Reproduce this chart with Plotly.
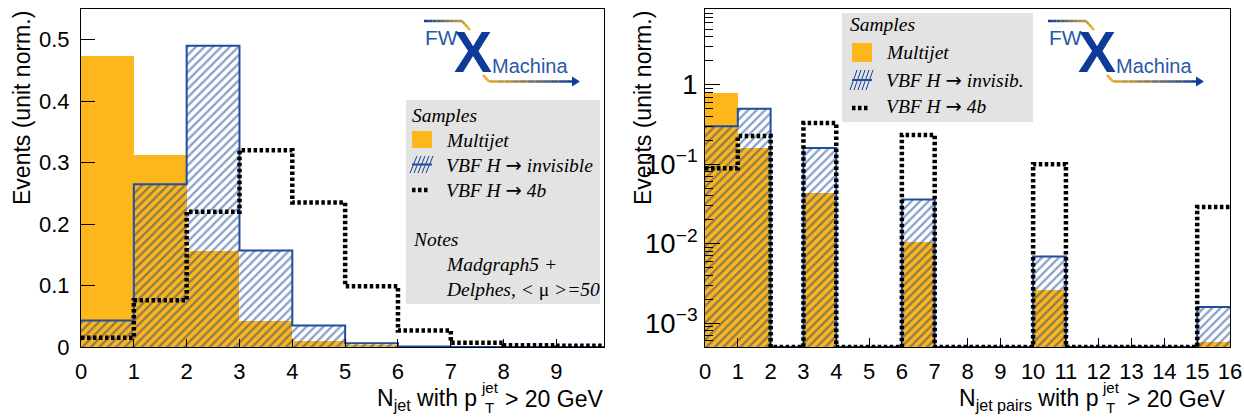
import numpy as np
import plotly.graph_objects as go

W, H = 1244, 417

# ---------------- data ----------------
# Left panel: N_jet with pT > 20 GeV (bins of width 1, 0..10)
njet_edges = list(range(0, 11))
njet_multijet = [0.473, 0.312, 0.157, 0.042, 0.009, 0.003, 0.0, 0.0, 0.0, 0.0]
njet_vbf_inv = [0.043, 0.265, 0.490, 0.157, 0.035, 0.006, 0.001, 0.0, 0.0, 0.0]
njet_vbf_4b = [0.015, 0.076, 0.220, 0.320, 0.235, 0.099, 0.027, 0.007, 0.003, 0.002]
njet_ticks = list(range(0, 10))

# Right panel: N_jet pairs with pT > 20 GeV (bins of width 1, 0..16)
npair_edges = list(range(0, 17))
npair_multijet = [0.785, 0.160, 0, 0.043, 0, 0, 0.0105, 0, 0, 0, 0.0026, 0, 0, 0, 0, 0.00058]
npair_vbf_inv = [0.300, 0.500, 0, 0.160, 0, 0, 0.036, 0, 0, 0, 0.0069, 0, 0, 0, 0, 0.0016]
npair_vbf_4b = [0.089, 0.227, 0, 0.330, 0, 0, 0.234, 0, 0, 0, 0.100, 0, 0, 0, 0, 0.029]
npair_ticks = list(range(0, 17))

# ---------------- style ----------------
ORANGE = "#fdb71c"
BLUE = "#1f4e9e"
HATCH = "#163f8f"
GREY = "#e3e3e3"
LOGO_DARK = "#0e3b98"
LOGO_BLUE = "#2a58a8"
LOGO_YELLOW = "#f6b41c"
SANS = "Liberation Sans, Arial, sans-serif"
SERIF = "Liberation Serif, Times New Roman, serif"
DOTS = "3.5px,2.5px"
ARROW = "<span style='font-family:DejaVu Sans;font-style:normal'>→</span>"

YMIN_LOG = np.log10(5e-4)
YMAX_LOG = np.log10(9.0)
FLOOR = 10 ** YMIN_LOG


def px(x):
    return x / W


def py(y):
    return 1 - y / H


def centers(edges):
    e = np.asarray(edges, dtype=float)
    return list((e[:-1] + e[1:]) / 2)


def step(edges, vals, floor=None):
    v = list(vals)
    if floor is not None:
        v = [max(a, floor) for a in v]
    return list(edges), v + [v[-1]]


fig = go.Figure()


def add_panel(edges, mj, inv, b4, xa, ya, floor=None):
    c = centers(edges)
    fig.add_trace(go.Bar(x=c, y=mj, width=1, marker=dict(color=ORANGE, line=dict(width=0)),
                         xaxis=xa, yaxis=ya, showlegend=False))
    fig.add_trace(go.Bar(x=c, y=inv, width=1,
                         marker=dict(color="rgba(0,0,0,0)", line=dict(width=0),
                                     pattern=dict(shape="/", fgcolor=HATCH, bgcolor="rgba(0,0,0,0)",
                                                  size=6, solidity=0.38)),
                         xaxis=xa, yaxis=ya, showlegend=False))
    sx, sy = step(edges, inv, floor)
    fig.add_trace(go.Scatter(x=sx, y=sy, mode="lines", line=dict(color=BLUE, width=2, shape="hv"),
                             xaxis=xa, yaxis=ya, showlegend=False, hoverinfo="skip"))
    sx, sy = step(edges, b4, floor)
    fig.add_trace(go.Scatter(x=sx, y=sy, mode="lines",
                             line=dict(color="black", width=4.5, shape="hv", dash=DOTS),
                             xaxis=xa, yaxis=ya, showlegend=False, hoverinfo="skip"))


add_panel(njet_edges, njet_multijet, njet_vbf_inv, njet_vbf_4b, "x", "y")
add_panel(npair_edges, npair_multijet, npair_vbf_inv, npair_vbf_4b, "x2", "y2", floor=FLOOR)

axis_common = dict(showline=True, linecolor="black", linewidth=1, mirror=True, ticks="inside",
                   tickcolor="black", tickwidth=1, showgrid=False, zeroline=False, automargin=False,
                   tickfont=dict(family=SANS, size=22, color="black"))
ydom = [py(347), py(9)]

fig.update_layout(
    width=W, height=H, margin=dict(l=0, r=0, t=0, b=0, autoexpand=False),
    paper_bgcolor="white", plot_bgcolor="white", barmode="overlay", bargap=0,
    xaxis=dict(domain=[px(81), px(604)], range=[0, 9.9], tickvals=njet_ticks, ticklen=8,
               ticklabelstandoff=5, anchor="y", **axis_common),
    yaxis=dict(domain=ydom, range=[0, 0.55], dtick=0.1, tick0=0, ticklen=14,
               ticklabelstandoff=6, anchor="x", **axis_common),
    xaxis2=dict(domain=[px(705), px(1230)], range=[0, 16], tickvals=npair_ticks, ticklen=9,
                ticklabelstandoff=5, anchor="y2", **axis_common),
    yaxis2=dict(domain=ydom, type="log", range=[YMIN_LOG, YMAX_LOG], dtick=1, ticklen=15,
                exponentformat="power", ticklabelstandoff=2, anchor="x2",
                minor=dict(ticks="inside", ticklen=8, dtick="D1", tickcolor="black", showgrid=False),
                **axis_common),
)

shapes = []
annotations = []


def text(x, y, s, size, family=SANS, color="black", xanchor="left", yanchor="middle", angle=0,
         italic=False, bold=False):
    st = "italic" if italic else "normal"
    wt = "bold" if bold else "normal"
    annotations.append(dict(x=px(x), y=py(y), xref="paper", yref="paper", text=s, showarrow=False,
                            xanchor=xanchor, yanchor=yanchor, textangle=angle, borderpad=0,
                            font=dict(family=family, size=size, color=color, style=st, weight=wt)))


def line(x0, y0, x1, y1, color, width, dash=None):
    d = dict(type="line", x0=px(x0), y0=py(y0), x1=px(x1), y1=py(y1), xref="paper", yref="paper",
             line=dict(color=color, width=width))
    if dash:
        d["line"]["dash"] = dash
    shapes.append(d)


def rect(x0, y0, x1, y1, fill, lw=0, lc=None):
    shapes.append(dict(type="rect", x0=px(x0), y0=py(y0), x1=px(x1), y1=py(y1), xref="paper",
                       yref="paper", fillcolor=fill, line=dict(width=lw, color=lc or fill), layer="above"))


def hatch_symbol(x0, y0, x1, y1):
    n = 5
    w = x1 - x0
    for i in range(n):
        a = x0 + i * w / n - 2
        line(a, y1, a + 7, y0, HATCH, 1)
    line(x0, (y0 + y1) / 2, x1, (y0 + y1) / 2, BLUE, 2)


def dots_symbol(x0, x1, y):
    line(x0, y, x1, y, "black", 4.5, DOTS)


def lerp_color(c0, c1, t):
    a = [int(c0[i:i + 2], 16) for i in (1, 3, 5)]
    b = [int(c1[i:i + 2], 16) for i in (1, 3, 5)]
    return "#%02x%02x%02x" % tuple(int(round(a[k] + (b[k] - a[k]) * t)) for k in range(3))


def grad_line(pts, c0, c1, width, nseg=12):
    segs = list(zip(pts[:-1], pts[1:]))
    lens = [np.hypot(b[0] - a[0], b[1] - a[1]) for a, b in segs]
    total = sum(lens)
    acc = 0
    for (a, b), L in zip(segs, lens):
        k = max(1, int(round(nseg * L / total)))
        for j in range(k):
            t0, t1 = j / k, (j + 1) / k
            xa, ya = a[0] + (b[0] - a[0]) * t0, a[1] + (b[1] - a[1]) * t0
            xb, yb = a[0] + (b[0] - a[0]) * t1, a[1] + (b[1] - a[1]) * t1
            tm = (acc + L * (t0 + t1) / 2) / total
            line(xa, ya, xb, yb, lerp_color(c0, c1, tm), width)
        acc += L


def logo(ox):
    grad_line([(ox + 0, 21), (ox + 38, 21), (ox + 46, 30)], LOGO_DARK, LOGO_YELLOW, 2.5)
    text(ox + 0, 38, "FW", 21, color=LOGO_BLUE)
    text(ox + 49, 52, "X", 57, color=LOGO_DARK, xanchor="center", bold=True)
    text(ox + 67, 66, "Machina", 20, color=LOGO_BLUE)
    grad_line([(ox + 59, 75), (ox + 65, 81.5), (ox + 150, 81.5)], LOGO_YELLOW, LOGO_DARK, 2.5)
    shapes.append(dict(type="path", xref="paper", yref="paper",
                       path="M %f %f L %f %f L %f %f Z" % (px(ox + 148), py(76.5), px(ox + 156), py(81.5),
                                                          px(ox + 148), py(86.5)),
                       fillcolor=LOGO_DARK, line=dict(width=0)))


LEG = 19.5

# ---- left legend ----
rect(406, 100, 600, 304, GREY)
text(411, 115, "Samples", LEG, family=SERIF, italic=True)
rect(412, 131, 432, 148, ORANGE)
text(445, 140, "Multijet", LEG, family=SERIF, italic=True)
hatch_symbol(412, 156, 432, 173)
text(445, 165, "VBF H " + ARROW + " invisible", LEG, family=SERIF, italic=True)
dots_symbol(412, 429, 190)
text(445, 190, "VBF H " + ARROW + " 4b", LEG, family=SERIF, italic=True)
text(412, 239, "Notes", LEG, family=SERIF, italic=True)
text(445, 264, "Madgraph5 +", LEG, family=SERIF, italic=True)
text(445, 289, "Delphes, &lt; <span style='font-style:normal'>μ</span> &gt;=50", LEG, family=SERIF,
     italic=True)

# ---- right legend ----
rect(842, 13, 1033, 122, GREY)
text(849, 25, "Samples", LEG, family=SERIF, italic=True)
rect(852, 43, 872, 62, ORANGE)
text(885, 53, "Multijet", LEG, family=SERIF, italic=True)
hatch_symbol(852, 70, 872, 90)
text(885, 80, "VBF H " + ARROW + " invisib.", LEG, family=SERIF, italic=True)
dots_symbol(852, 869, 108)
text(885, 107, "VBF H " + ARROW + " 4b", LEG, family=SERIF, italic=True)

# ---- logos ----
logo(424)
logo(1048)

# ---- axis titles ----
text(22, 10, "Events (unit norm.)", 23, xanchor="center", yanchor="top", angle=-90)
text(643, 10, "Events (unit norm.)", 23, xanchor="center", yanchor="top", angle=-90)

# x titles: N_jet with p_T^jet > 20 GeV (stacked sub/superscript)
text(604, 399, "&gt; 20 GeV", 23, xanchor="right")
text(480, 387, "jet", 15, xanchor="left")
text(484, 407, "T", 15, xanchor="left")
text(478, 399, "N<sub>jet</sub> with p", 23, xanchor="right")

text(1226, 399, "&gt; 20 GeV", 23, xanchor="right")
text(1101, 387, "jet", 15, xanchor="left")
text(1105, 407, "T", 15, xanchor="left")
text(1099, 399, "N<sub>jet pairs</sub> with p", 23, xanchor="right")

fig.update_layout(shapes=shapes, annotations=annotations)
fig.write_html("out.html")
